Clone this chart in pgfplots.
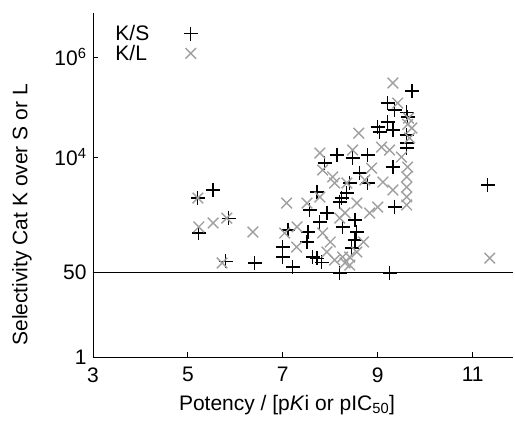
\documentclass[border=0pt]{standalone}
\usepackage{pgfplots}
\pgfplotsset{compat=1.18}
\usepackage{fontspec}
\setmainfont{Liberation Sans}
\definecolor{klgray}{RGB}{160,160,160}
\begin{document}
\begin{tikzpicture}
\begin{axis}[
  name=ax,
  scale only axis,
  width=420pt, height=344pt,
  xmin=3, xmax=11.85,
  ymode=log, ymin=1, ymax=7.6e6,
  axis lines=left,
  axis line style={line width=0.9pt, -},
  xtick={3,5,7,9,11},
  ytick={1,50,10000,1000000},
  yticklabels={1,50,10\textsuperscript{4},10\textsuperscript{6}},
  tick align=inside,
  major tick length=5pt,
  tick style={line width=0.9pt, black},
  minor tick num=0,
  /pgf/number format/assume math mode=true,
  tick label style={font=\fontsize{21}{25}\selectfont},
  xticklabel style={yshift=-7pt},
  yticklabel style={xshift=-3pt},
  label style={font=\fontsize{21}{25}\selectfont},
  xlabel={Potency / [p\textit{K}i or pIC\textsubscript{50}]},
  xlabel style={at={(axis description cs:0.462,-0.14)}, anchor=center},
  ylabel={Selectivity Cat K over S or L},
  ylabel style={at={(axis description cs:-0.169,0.413)}, anchor=center},
  legend style={draw=none, fill=none, font=\fontsize{21}{25}\selectfont,
    at={(axis description cs:0.047,0.972)}, anchor=north west,
    row sep=0pt, inner sep=1pt, nodes={inner sep=1.5pt}},
  legend cell align=left,
  legend plot pos=right,
  /tikz/every odd column/.append style={column sep=33pt},
]
\addplot[only marks, mark=+, mark size=7pt, line width=1.2pt, black] table {
5.53 2190
5.21 1510
5.23 302
5.86 600
5.80 82
6.41 76
7.11 347
7.53 316
7.51 200
7.00 158
7.00 100
7.63 100
7.72 95
7.82 79
7.21 63
8.20 48
9.25 48
7.72 2000
7.57 870
7.93 760
7.78 500
7.88 7600
8.14 11000
8.47 9550
8.79 11000
8.62 4800
8.41 3020
8.79 3020
8.35 1900
8.24 1510
8.20 1260
8.52 550
8.26 400
8.56 316
8.52 219
8.45 151
9.32 6300
9.36 1000
9.72 209000
9.21 120000
9.36 87000
9.61 79000
9.63 63000
9.21 50000
9.00 40000
9.04 31600
9.32 34700
9.61 27500
9.61 19000
9.61 15100
11.32 2750
};
\addlegendentry{K/S}
\addplot[only marks, mark=x, mark size=7.5pt, line width=1.4pt, klgray] table {
5.21 1510
5.23 400
5.53 480
5.82 600
5.72 76
6.37 316
7.08 1200
7.51 1200
8.05 4000
7.84 302
7.04 302
7.29 158
7.93 126
8.09 87
8.26 100
8.35 3020
8.41 69
8.56 1200
8.73 3470
9.32 2190
9.61 1100
9.61 1600
9.61 2500
9.61 4000
9.63 6300
8.83 760
8.31 760
8.56 126
8.41 100
8.31 76
9.32 302000
9.42 120000
8.60 30000
9.72 38000
9.67 24000
9.65 60000
9.63 45000
9.25 13800
9.08 15800
8.47 13800
8.87 6000
7.78 12000
7.84 5500
8.09 3020
7.78 1580
9.11 3160
9.50 10000
7.30 400
8.00 200
8.20 600
8.70 200
9.00 1000
11.36 95
};
\addlegendentry{K/L}
\addplot[black, line width=0.9pt, forget plot] coordinates {(3,50) (11.85,50)};
\end{axis}
\pgfresetboundingbox
\path ([xshift=-93pt,yshift=-64pt]ax.south west) rectangle ([xshift=2pt,yshift=13pt]ax.north east);
\end{tikzpicture}
\end{document}
